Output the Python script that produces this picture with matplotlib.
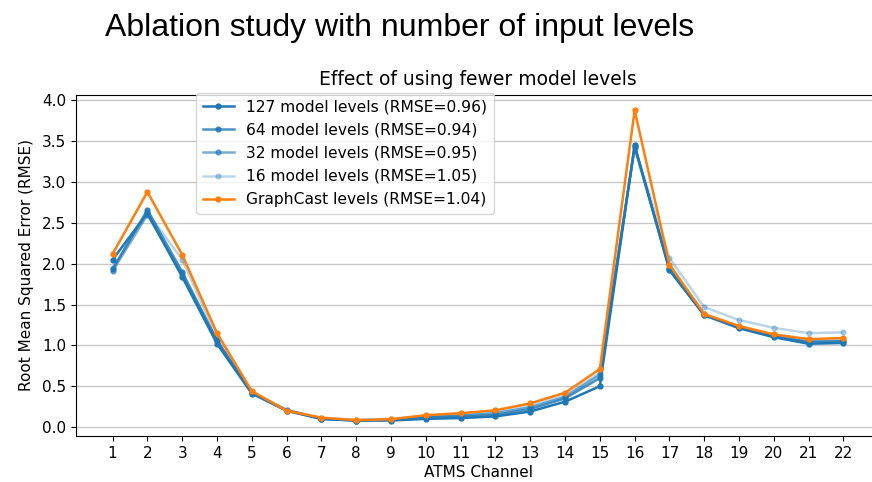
import matplotlib.pyplot as plt

# values
channels = list(range(1, 23))
rmse_127 = [2.05, 2.62, 1.84, 1.02, 0.41, 0.20, 0.10, 0.08, 0.08, 0.10, 0.11, 0.13, 0.19, 0.31, 0.50, 3.45, 1.92, 1.37, 1.21, 1.10, 1.02, 1.03]
rmse_64 = [1.93, 2.66, 1.90, 1.06, 0.42, 0.20, 0.10, 0.08, 0.09, 0.12, 0.13, 0.15, 0.22, 0.35, 0.60, 3.44, 1.93, 1.37, 1.22, 1.11, 1.04, 1.05]
rmse_32 = [1.91, 2.60, 1.87, 1.05, 0.42, 0.21, 0.10, 0.08, 0.09, 0.13, 0.14, 0.17, 0.24, 0.37, 0.64, 3.42, 1.95, 1.38, 1.23, 1.12, 1.05, 1.06]
rmse_16 = [1.95, 2.63, 2.05, 1.10, 0.43, 0.21, 0.11, 0.09, 0.10, 0.14, 0.16, 0.19, 0.26, 0.39, 0.66, 3.43, 2.07, 1.47, 1.31, 1.215, 1.15, 1.16]
rmse_gc = [2.12, 2.88, 2.11, 1.15, 0.44, 0.20, 0.115, 0.085, 0.095, 0.145, 0.17, 0.205, 0.29, 0.42, 0.71, 3.88, 1.99, 1.385, 1.237, 1.135, 1.077, 1.09]

labels = ['127 model levels (RMSE=0.96)', '64 model levels (RMSE=0.94)',
          '32 model levels (RMSE=0.95)', '16 model levels (RMSE=1.05)',
          'GraphCast levels (RMSE=1.04)']

fig = plt.figure(figsize=(8.72, 4.82), dpi=100)
ax = fig.add_axes([0.0872, 0.0954, 0.922, 0.708])

ax.plot(channels, rmse_127, color='C0', marker='o', ms=3.5, lw=1.8, label=labels[0])
ax.plot(channels, rmse_64, color='C0', alpha=0.8, marker='o', ms=3.5, lw=1.8, label=labels[1])
ax.plot(channels, rmse_32, color='C0', alpha=0.6, marker='o', ms=3.5, lw=1.8, label=labels[2])
ax.plot(channels, rmse_16, color='C0', alpha=0.3, marker='o', ms=3.5, lw=1.8, label=labels[3])
ax.plot(channels, rmse_gc, color='C1', marker='o', ms=3.5, lw=1.8, label=labels[4])

ax.set_xticks(channels)
ax.set_yticks([0.0, 0.5, 1.0, 1.5, 2.0, 2.5, 3.0, 3.5, 4.0])
ax.grid(axis='y', color='#c8c8c8', lw=1)
ax.set_axisbelow(True)
ax.tick_params(labelsize=11)
ax.set_xlabel('ATMS Channel', fontsize=11, labelpad=3)
ax.set_ylabel('Root Mean Squared Error (RMSE)', fontsize=11, labelpad=6)
ax.set_title('Effect of using fewer model levels', fontsize=13.5, pad=7)

ax.legend(loc='upper left', bbox_to_anchor=(0.149, 1.006), borderaxespad=0,
          fontsize=11.2, labelspacing=0.52, borderpad=0.45)

fig.text(0.12, 0.942, 'Ablation study with number of input levels',
         fontsize=23, family='Liberation Sans', va='center', ha='left')

fig.savefig('out.png', dpi=100)
